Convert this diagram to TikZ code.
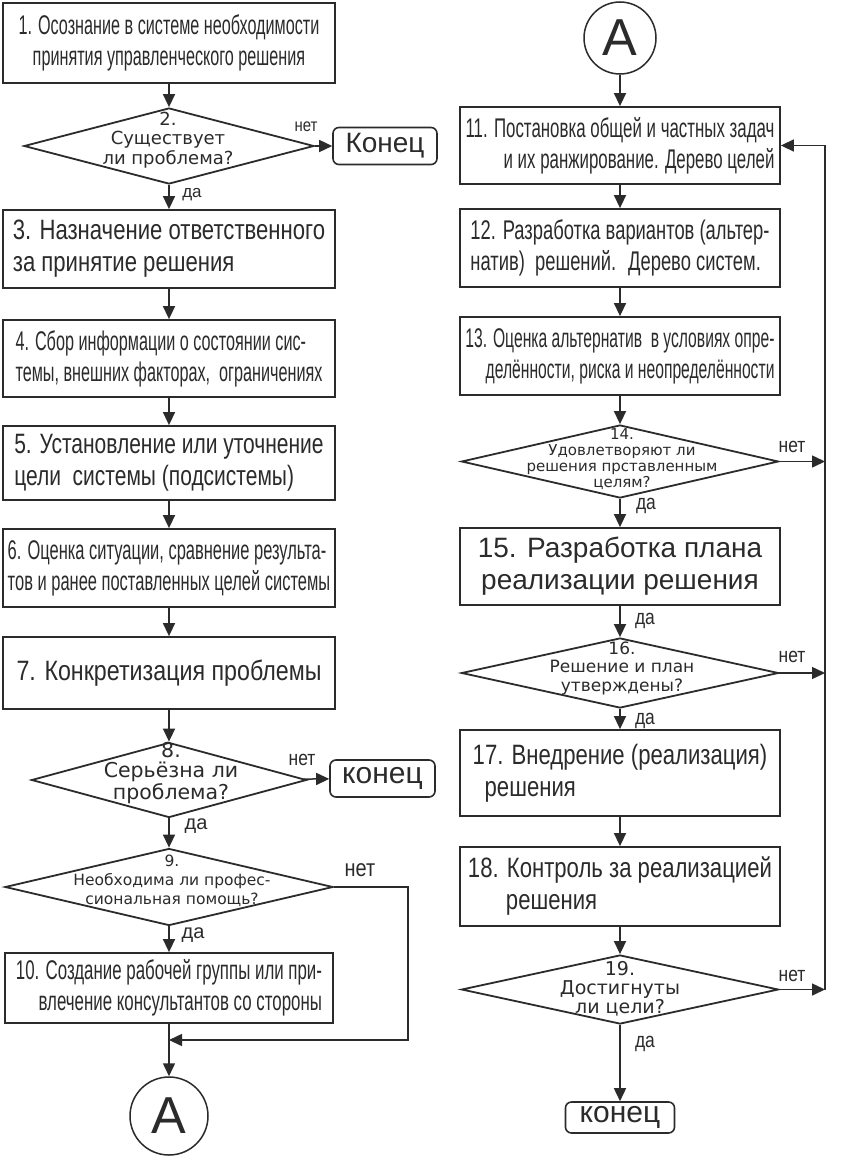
\documentclass[tikz,border=0pt]{standalone}
\usepackage{fontspec}
\setmainfont{Liberation Sans}
\newfontfamily\cndA[FakeStretch=0.58]{Liberation Sans}
\newfontfamily\cndG[FakeStretch=0.60]{Liberation Sans}
\newfontfamily\cndB[FakeStretch=0.625]{Liberation Sans}
\newfontfamily\cndH[FakeStretch=0.61]{Liberation Sans}
\newfontfamily\cndC[FakeStretch=0.68]{Liberation Sans}
\newfontfamily\cndD[FakeStretch=0.75]{Liberation Sans}
\newfontfamily\cndE[FakeStretch=0.79]{Liberation Sans}
\newfontfamily\cndF[FakeStretch=0.83]{Liberation Sans}
\newfontfamily\dfont{DejaVu Sans}
\newcommand\bsz{\fontsize{27}{31}\selectfont}
\newcommand\msz{\fontsize{28}{32}\selectfont}
\usetikzlibrary{shapes.geometric,arrows.meta}
\definecolor{ink}{HTML}{2B2B2B}

\begin{document}
\begin{tikzpicture}[x=1pt,y=-1pt,
  blk/.style={draw=ink,line width=1.8pt,minimum width=332pt,inner sep=0pt,text=ink},
  rblk/.style={blk,minimum width=320pt},
  dec/.style={diamond,draw=ink,line width=1.8pt,inner sep=0pt},
  dtx/.style={align=center,inner sep=0pt,text=ink},
  term/.style={draw=ink,line width=1.6pt,rounded corners=6pt,inner sep=0pt,text=ink},
  conn/.style={circle,draw=ink,line width=1.5pt,inner sep=0pt,text=ink,font=\fontsize{52}{52}\selectfont},
  arr/.style={draw=ink,line width=1.5pt,-{Triangle[length=13pt,width=12pt]}},
  lab/.style={text=ink,inner sep=0pt}]

  \path[use as bounding box,fill=white] (0,0) rectangle (867,1156);

  \node[blk,minimum height=80pt,align=center,font=\cndG\bsz] at (169,43) (b1) {1. Осознание в системе необходимости\\принятия управленческого решения};
  \node[dec,minimum width=290pt,minimum height=76pt] at (169,146) (d2) {};
  \node[dtx,font=\dfont\fontsize{18}{19.5}\selectfont] at (168,140) (d2t) {2.\\Существует\\ли проблема?};
  \node[term,minimum width=104pt,minimum height=37pt,font=\fontsize{28}{30}\selectfont] at (385,146) (k1) {Конец};
  \node[blk,minimum height=78pt,align=left,font=\cndE\msz] at (169,249) (b3) {3. Назначение ответственного\\за принятие решения};
  \node[blk,minimum height=77pt,align=left,font=\cndG\bsz] at (169,358.5) (b4) {4. Сбор информации о состоянии сис-\\темы, внешних факторах,~ ограничениях};
  \node[blk,minimum height=74pt,align=left,font=\cndD\msz] at (169,463) (b5) {5. Установление или уточнение\\цели~ системы (подсистемы)};
  \node[blk,minimum height=78pt,align=left,font=\cndH\bsz] at (169,568) (b6) {6. Оценка ситуации, сравнение результа-\\тов и ранее поставленных целей системы};
  \node[blk,minimum height=72pt,font=\cndF\msz] at (169,673) (b7) {7. Конкретизация проблемы};
  \node[dec,minimum width=275pt,minimum height=75pt] at (169,780) (d8) {};
  \node[dtx,font=\dfont\fontsize{20.5}{20}\selectfont] at (171,773) (d8t) {8.\\Серьёзна ли\\проблема?};
  \node[term,minimum width=105pt,minimum height=37pt,font=\fontsize{30}{30}\selectfont] at (382.5,778.5) (k2) {конец};
  \node[dec,minimum width=328pt,minimum height=77pt] at (169,887) (d9) {};
  \node[dtx,font=\dfont\fontsize{15.5}{19}\selectfont] at (172,881) (d9t) {9.\\Необходима ли профес-\\сиональная помощь?};
  \node[blk,minimum width=328pt,minimum height=70pt,align=right,font=\cndB\bsz] at (169,988) (b10) {10. Создание рабочей группы или при-\\влечение консультантов со стороны};
  \node[conn,minimum size=78pt] at (169,1116) (A1) {А};
  \coordinate (r9) at (408,1040);
  \coordinate (j9) at (169,1040);

  \node[conn,minimum size=72pt] at (620,38) (A2) {А};
  \node[rblk,minimum height=77pt,align=right,font=\cndB\bsz] at (620,145.5) (b11) {11. Постановка общей и частных задач\\и их ранжирование. Дерево целей};
  \node[rblk,minimum height=78pt,align=left,font=\cndC\bsz] at (620,248) (b12) {12. Разработка вариантов (альтер-\\натив)~ решений.~ Дерево систем.};
  \node[rblk,minimum height=78pt,align=right,font=\cndA\bsz] at (620,356) (b13) {13. Оценка альтернатив~ в условиях опре-\\делённости, риска и неопределённости};
  \node[dec,minimum width=317pt,minimum height=73pt] at (620,461.5) (d14) {};
  \node[dtx,font=\dfont\fontsize{15}{16}\selectfont] at (622,459) (d14t) {14.\\Удовлетворяют ли\\решения прставленным\\целям?};
  \node[rblk,minimum height=77pt,align=center,font=\fontsize{28}{32}\selectfont] at (620,566.5) (b15) {15. Разработка плана\\реализации решения};
  \node[dec,minimum width=317pt,minimum height=70pt] at (620,673) (d16) {};
  \node[dtx,font=\dfont\fontsize{17}{18.5}\selectfont] at (622,668) (d16t) {16.\\Решение и план\\утверждены?};
  \node[rblk,minimum height=86pt,align=left,font=\cndE\msz] at (620,773) (b17) {17. Внедрение (реализация)\\\hspace*{12pt}решения};
  \node[rblk,minimum height=79pt,align=left,font=\cndE\msz] at (620,886.5) (b18) {18. Контроль за реализацией\\\hspace*{38pt}решения};
  \node[dec,minimum width=317pt,minimum height=69pt] at (620,989.5) (d19) {};
  \node[dtx,font=\dfont\fontsize{19}{19}\selectfont] at (620,989) (d19t) {19.\\Достигнуты\\ли цели?};
  \node[term,minimum width=109pt,minimum height=31pt,font=\fontsize{30}{30}\selectfont] at (620,1117.5) (k3) {конец};
  \coordinate (r19) at (825,989.5);

  \node[lab,font=\cndF\fontsize{18}{18}\selectfont] at (306,127) (n2) {нет};
  \node[lab,font=\fontsize{17}{17}\selectfont] at (192,195) (y2) {да};
  \node[lab,font=\cndF\fontsize{21}{21}\selectfont] at (302,760) (n8) {нет};
  \node[lab,font=\fontsize{20}{20}\selectfont] at (196,826) (y8) {да};
  \node[lab,font=\cndF\fontsize{24}{24}\selectfont] at (360,870) (n9) {нет};
  \node[lab,font=\fontsize{20}{20}\selectfont] at (193,935) (y9) {да};
  \node[lab,font=\cndF\fontsize{21}{21}\selectfont] at (792,447) (n14) {нет};
  \node[lab,font=\cndF\fontsize{21}{21}\selectfont] at (646,506) (y14) {да};
  \node[lab,font=\cndF\fontsize{21}{21}\selectfont] at (645,621) (y15) {да};
  \node[lab,font=\cndF\fontsize{21}{21}\selectfont] at (792,657) (n16) {нет};
  \node[lab,font=\cndF\fontsize{21}{21}\selectfont] at (645,721) (y16) {да};
  \node[lab,font=\cndF\fontsize{21}{21}\selectfont] at (792,976) (n19) {нет};
  \node[lab,font=\cndF\fontsize{21}{21}\selectfont] at (645,1044) (y19) {да};

  \draw[arr] (b1) -- (d2);
  \draw[arr] (d2) -- (k1);
  \draw[arr] (d2) -- (b3);
  \draw[arr] (b3) -- (b4);
  \draw[arr] (b4) -- (b5);
  \draw[arr] (b5) -- (b6);
  \draw[arr] (b6) -- (b7);
  \draw[arr] (b7) -- (d8);
  \draw[arr] (d8) -- (k2);
  \draw[arr] (d8) -- (d9);
  \draw[arr] (d9) -- (b10);
  \draw[arr] (b10) -- (A1);
  \draw[arr] (d9) -| (r9) -- (j9);

  \draw[arr] (A2) -- (b11);
  \draw[arr] (b11) -- (b12);
  \draw[arr] (b12) -- (b13);
  \draw[arr] (b13) -- (d14);
  \draw[arr] (d14) -- (b15);
  \draw[arr] (b15) -- (d16);
  \draw[arr] (d16) -- (b17);
  \draw[arr] (b17) -- (b18);
  \draw[arr] (b18) -- (d19);
  \draw[arr] (d19) -- (k3);
  \draw[arr] (d14) -- (d14 -| r19);
  \draw[arr] (d16) -- (d16 -| r19);
  \draw[arr] (d19) -- (r19);
  \draw[arr] (r19) |- (b11);

\end{tikzpicture}
\end{document}
